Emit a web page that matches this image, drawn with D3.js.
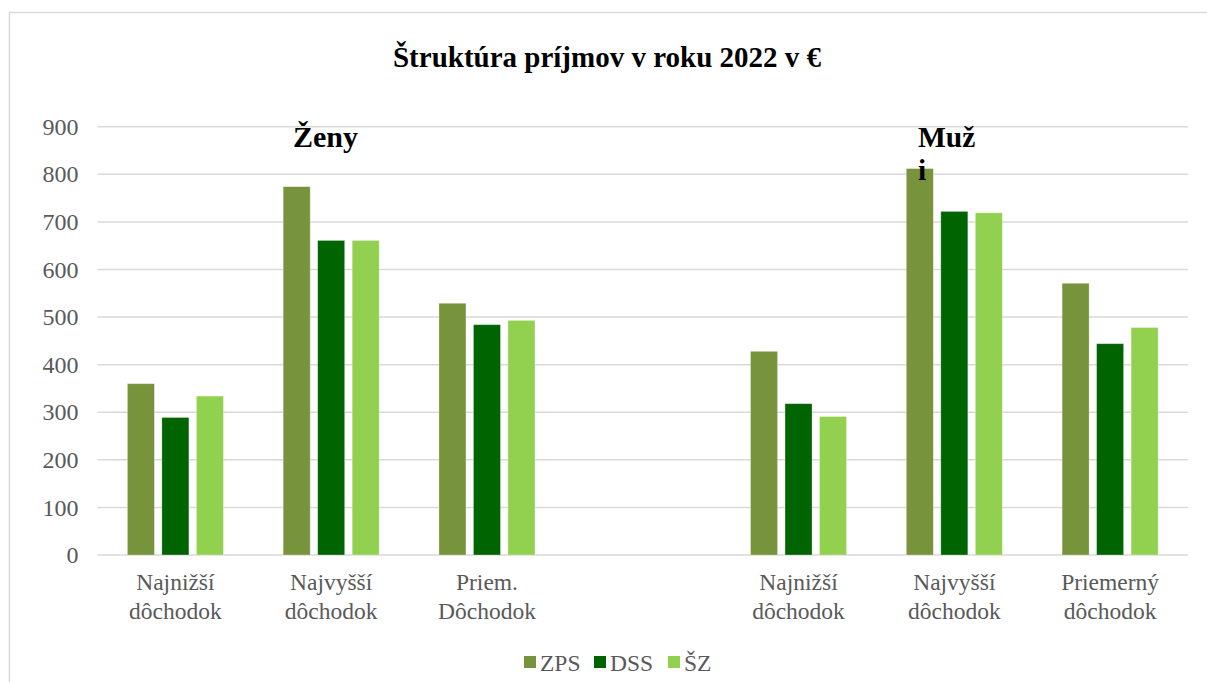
<!DOCTYPE html>
<html><head><meta charset="utf-8">
<script src="https://cdn.jsdelivr.net/npm/d3@7"></script>
<style>html,body{margin:0;padding:0;background:#fff;} svg text{font-family:"Liberation Serif","Times New Roman",Tinos,"DejaVu Serif",serif;}</style>
</head><body>
<svg id="c" width="1207" height="682"></svg>
<script>
const categories = [
  ["Najnižší","dôchodok"],
  ["Najvyšší","dôchodok"],
  ["Priem.","Dôchodok"],
  [],
  ["Najnižší","dôchodok"],
  ["Najvyšší","dôchodok"],
  ["Priemerný","dôchodok"]
];
const seriesNames = ["ZPS","DSS","ŠZ"];
const ZPS = [360, 774, 529, null, 428, 812, 571];
const DSS = [289, 661, 484, null, 318, 722, 444];
const SZ  = [334, 661, 493, null, 291, 719, 478];
const yTicks = [0,100,200,300,400,500,600,700,800,900];
const colors = ["#77933c","#006400","#92d050"];
const title = "Štruktúra príjmov v roku 2022 v €";

const svg = d3.select("#c");
const font = '"Liberation Serif","Times New Roman",Tinos,"DejaVu Serif",serif';
// outer border
svg.append("rect").attr("x",9.5).attr("y",12.5).attr("width",1210).attr("height",700)
  .attr("fill","#fff").attr("stroke","#d9d9d9").attr("stroke-width",1.5);

const L=97.5, R=1188, T=126.7, B=555;
const x0 = d3.scaleBand().domain(d3.range(categories.length)).range([L,R]).padding(0);
const x1 = d3.scaleBand().domain(seriesNames).range([0,x0.bandwidth()]).paddingInner(0.217).paddingOuter(0.866);
const y = d3.scaleLinear().domain([0,900]).range([B,T]);

// gridlines
svg.append("g").selectAll("line").data(yTicks).join("line")
  .attr("x1",L).attr("x2",R).attr("y1",d=>y(d)).attr("y2",d=>y(d))
  .attr("stroke","#d9d9d9").attr("stroke-width",1.5);

// y axis labels
const yAxis = d3.axisLeft(y).tickValues(yTicks).tickSize(0).tickPadding(19);
const gy = svg.append("g").attr("transform",`translate(${L},0)`).call(yAxis);
gy.select(".domain").remove();
gy.attr("font-family",null).attr("font-size",null);
gy.selectAll("text").style("font-family",font).style("font-size","24px").attr("fill","#595959");

// bars
const data = [ZPS,DSS,SZ];
const gBars = svg.append("g");
seriesNames.forEach((s,si)=>{
  gBars.append("g").selectAll("rect").data(data[si].map((v,i)=>({v,i})).filter(d=>d.v!=null)).join("rect")
    .attr("x",d=>x0(d.i)+x1(s)).attr("width",x1.bandwidth())
    .attr("y",d=>y(d.v)).attr("height",d=>B-y(d.v))
    .attr("fill",colors[si]).attr("stroke","#fff").attr("stroke-opacity",0.4).attr("stroke-width",0.75);
});

// category labels
const gx = svg.append("g");
categories.forEach((lines,i)=>{
  const t = gx.append("text").style("font-family",font).style("font-size","23.5px").attr("fill","#595959")
    .attr("text-anchor","middle");
  lines.forEach((ln,j)=>{
    t.append("tspan").attr("x",x0(i)+x0.bandwidth()/2).attr("y",590+j*29).text(ln);
  });
});

// title
svg.append("text").attr("x",607).attr("y",67).attr("text-anchor","middle")
  .style("font-family",font).style("font-weight","bold").style("font-size","29px").attr("fill","#000").text(title);

// group labels
svg.append("text").attr("x",293).attr("y",147).style("font-family",font).style("font-weight","bold")
  .style("font-size","30px").attr("fill","#000").text("Ženy");
const mz = svg.append("text").style("font-family",font).style("font-weight","bold").style("font-size","29.5px").attr("fill","#000");
mz.append("tspan").attr("x",918).attr("y",147).text("Muž");
mz.append("tspan").attr("x",918).attr("y",180).text("i");

// legend
const legX = [524, 594, 668];
const lg = svg.append("g");
seriesNames.forEach((s,i)=>{
  lg.append("rect").attr("x",legX[i]).attr("y",656).attr("width",12).attr("height",12).attr("fill",colors[i]);
  lg.append("text").attr("x",legX[i]+16).attr("y",671).style("font-family",font).style("font-size","23.5px")
    .attr("fill","#595959").text(s);
});
</script>
</body></html>
